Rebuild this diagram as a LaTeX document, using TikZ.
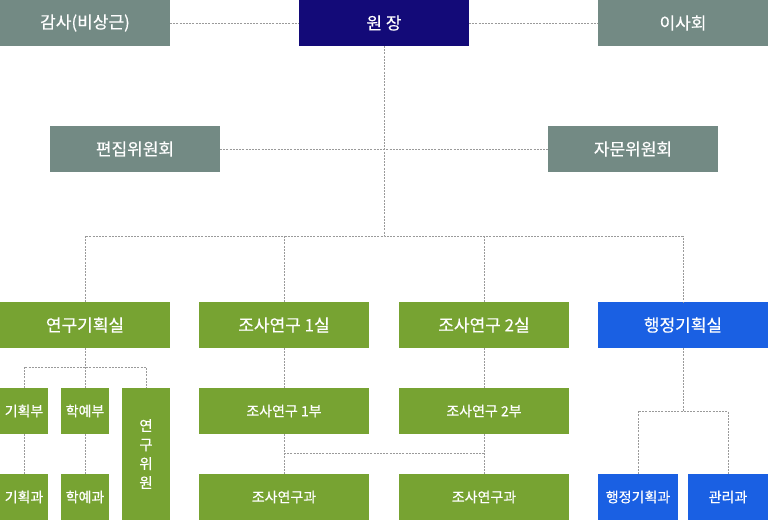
\documentclass[tikz,border=0pt]{standalone}
\usepackage{fontspec}
\setmainfont{Noto Sans CJK KR}[FakeBold=0.4]
\definecolor{cgray}{HTML}{738A84}
\definecolor{cnavy}{HTML}{130A78}
\definecolor{cgreen}{HTML}{77A332}
\definecolor{cblue}{HTML}{1A60E3}
\definecolor{cline}{HTML}{9A9A9A}
\begin{document}
\begin{tikzpicture}[x=1pt,y=-1pt,
  box/.style={rectangle, inner sep=0pt, outer sep=0pt, anchor=north west, text=white, align=center},
  big/.style={box, minimum width=170, minimum height=46, font=\fontsize{17}{19}\selectfont},
  small/.style={box, minimum height=46, font=\fontsize{14}{16}\selectfont},
  dotline/.style={draw=cline, line width=0.8pt, dash pattern=on 2pt off 1.2pt}]
\useasboundingbox (0,0) rectangle (768,520);
% top row
\node[big, fill=cgray] (gamsa) at (0,0) {감사(비상근)};
\node[big, fill=cnavy] (won) at (299,0) {원 장};
\node[big, fill=cgray] (isa) at (598,0) {이사회};
% committees
\node[big, fill=cgray] (pyeon) at (50,126) {편집위원회};
\node[big, fill=cgray] (jamun) at (548,126) {자문위원회};
% offices
\node[big, fill=cgreen] (yeon) at (0,302) {연구기획실};
\node[big, fill=cgreen] (josa1) at (199,302) {조사연구 1실};
\node[big, fill=cgreen] (josa2) at (399,302) {조사연구 2실};
\node[big, fill=cblue] (haeng) at (598,302) {행정기획실};
% under yeongu
\node[small, fill=cgreen, minimum width=48] (gbu) at (0,388) {기획부};
\node[small, fill=cgreen, minimum width=48] (hbu) at (61,388) {학예부};
\node[box, fill=cgreen, minimum width=48, minimum height=132, font=\fontsize{14.5}{19}\selectfont] (wiwon) at (122,388) {연\\구\\위\\원};
\node[small, fill=cgreen, minimum width=48] (ggwa) at (0,474) {기획과};
\node[small, fill=cgreen, minimum width=48] (hgwa) at (61,474) {학예과};
% under josa
\node[small, fill=cgreen, minimum width=170] (j1bu) at (199,388) {조사연구 1부};
\node[small, fill=cgreen, minimum width=170] (j2bu) at (399,388) {조사연구 2부};
\node[small, fill=cgreen, minimum width=170] (j1gwa) at (199,474) {조사연구과};
\node[small, fill=cgreen, minimum width=170] (j2gwa) at (399,474) {조사연구과};
% under haeng
\node[small, fill=cblue, minimum width=80] (hgh) at (598,474) {행정기획과};
\node[small, fill=cblue, minimum width=80] (gwanri) at (688,474) {관리과};
% connectors
\coordinate (hub) at (384,236);
\coordinate (ys) at (85,367);
\coordinate (jm) at (0,453);
\coordinate (hs) at (683,411);
\draw[dotline] (gamsa.east) -- (won.west);
\draw[dotline] (won.east) -- (isa.west);
\draw[dotline] (pyeon.east) -- (jamun.west);
\draw[dotline] (won.south) -- (hub);
\draw[dotline] (yeon.north) |- (hub) -| (haeng.north);
\draw[dotline] (josa1.north) -- (josa1.north |- hub);
\draw[dotline] (josa2.north) -- (josa2.north |- hub);
\draw[dotline] (yeon.south) -- (ys);
\draw[dotline] (gbu.north) |- (ys) -| (wiwon.north);
\draw[dotline] (hbu.north) -- (hbu.north |- ys);
\draw[dotline] (gbu.south) -- (ggwa.north);
\draw[dotline] (hbu.south) -- (hgwa.north);
\draw[dotline] (josa1.south) -- (j1bu.north);
\draw[dotline] (josa2.south) -- (j2bu.north);
\draw[dotline] (j1bu.south) -- (j1gwa.north);
\draw[dotline] (j2bu.south) -- (j2gwa.north);
\draw[dotline] (j1bu.south |- jm) -- (j2bu.south |- jm);
\draw[dotline] (haeng.south) -- (hs);
\draw[dotline] (hgh.north) |- (hs) -| (gwanri.north);
\end{tikzpicture}
\end{document}
